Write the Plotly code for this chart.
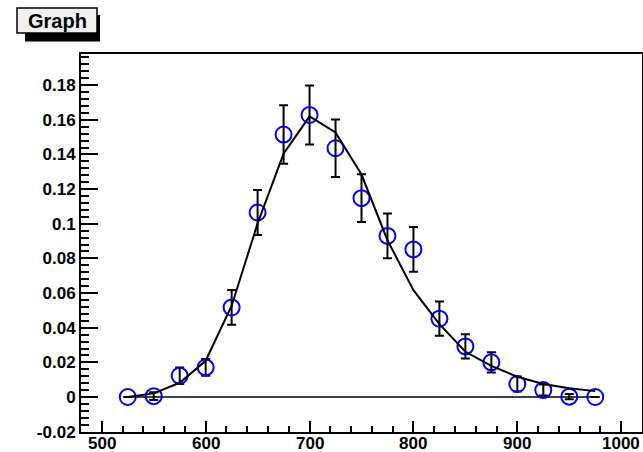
import plotly.graph_objects as go

# Measured points: energy bins, yield and its uncertainty
energy = [525, 550, 575, 600, 625, 650, 675, 700, 725, 750,
          775, 800, 825, 850, 875, 900, 925, 950, 975]
yield_vals = [0.0, 0.0005, 0.0123, 0.0171, 0.0517, 0.1065, 0.1515, 0.1628, 0.1436, 0.1148,
              0.0930, 0.0852, 0.0452, 0.0292, 0.0200, 0.0075, 0.0040, 0.0002, 0.0]
yield_err = [None, 0.0023, 0.0048, 0.0048, 0.0100, 0.0130, 0.0169, 0.0170, 0.0166, 0.0138,
             0.0129, 0.0129, 0.0099, 0.0070, 0.0059, 0.0043, 0.0032, 0.0015, None]

# Model curve evaluated at the same energies
model_vals = [0.0, 0.0021, 0.0082, 0.0209, 0.0527, 0.1002, 0.1405, 0.1620, 0.1527, 0.1284,
              0.0905, 0.0617, 0.0421, 0.0261, 0.0180, 0.0117, 0.0075, 0.0050, 0.0034]

# Zero reference line
baseline = [0.0] * len(energy)

x_ticks = [500, 600, 700, 800, 900, 1000]
x_tick_labels = ["500", "600", "700", "800", "900", "1000"]
y_ticks = [-0.02, 0.0, 0.02, 0.04, 0.06, 0.08, 0.10, 0.12, 0.14, 0.16, 0.18]
y_tick_labels = ["-0.02", "0", "0.02", "0.04", "0.06", "0.08", "0.1", "0.12", "0.14", "0.16", "0.18"]

x_range = [480, 1020]
y_range = [-0.0202, 0.198]

W, H = 643, 452
ML, MR, MT, MB = 81, 1, 54, 20
PW, PH = W - ML - MR, H - MT - MB


def px_to_paper(px, py):
    return (px - ML) / PW, (H - MB - py) / PH


fig = go.Figure()

fig.add_trace(go.Scatter(
    x=[energy[0], energy[-1]], y=[baseline[0], baseline[-1]],
    mode="lines", line=dict(color="black", width=1.3),
    showlegend=False, hoverinfo="skip",
))

fig.add_trace(go.Scatter(
    x=energy, y=yield_vals, mode="markers",
    marker=dict(symbol="circle-open", size=16, color="#0000ff", line=dict(width=2, color="#0000ff")),
    error_y=dict(type="data", array=yield_err, visible=True, color="black", thickness=2, width=4.5),
    showlegend=False,
))

fig.add_trace(go.Scatter(
    x=energy, y=model_vals, mode="lines",
    line=dict(color="black", width=2),
    showlegend=False,
))

tick_font = dict(family="Liberation Sans, Arial, sans-serif", size=17, color="black", weight="bold")

fig.update_xaxes(
    range=x_range, tickmode="array", tickvals=x_ticks, showticklabels=False,
    ticks="inside", ticklen=11, tickwidth=2, tickcolor="black",
    minor=dict(tickmode="linear", tick0=500, dtick=20, ticks="inside", ticklen=6,
               tickwidth=1.5, tickcolor="black", showgrid=False),
    showline=True, linecolor="black", linewidth=2, mirror=True,
    showgrid=False, zeroline=False, automargin=False,
)
fig.update_yaxes(
    range=y_range, tickmode="array", tickvals=y_ticks, ticktext=y_tick_labels,
    ticks="inside", ticklen=17, tickwidth=2, tickcolor="black",
    minor=dict(tickmode="linear", tick0=0, dtick=0.004, ticks="inside", ticklen=8,
               tickwidth=1.5, tickcolor="black", showgrid=False),
    showline=True, linecolor="black", linewidth=2, mirror=True,
    showgrid=False, zeroline=False, tickfont=tick_font, automargin=False,
)

# X tick labels placed just under the axis line
for xv, lab in zip(x_ticks, x_tick_labels):
    fig.add_annotation(text=lab, x=xv, xref="x", y=0, yref="paper",
                       xanchor="center", yanchor="top", yshift=-1, showarrow=False,
                       borderpad=0, font=tick_font)

# Title box with drop shadow
sx0, sy0 = px_to_paper(25, 41.5)
sx1, sy1 = px_to_paper(100, 15)
bx0, by0 = px_to_paper(17, 33)
bx1, by1 = px_to_paper(97, 8)
fig.add_shape(type="rect", xref="paper", yref="paper", x0=sx0, y0=sy0, x1=sx1, y1=sy1,
              fillcolor="black", line=dict(width=0), layer="above")
fig.add_shape(type="rect", xref="paper", yref="paper", x0=bx0, y0=by0, x1=bx1, y1=by1,
              fillcolor="#f0f0f0", line=dict(color="black", width=1.5), layer="above")
tx, ty = px_to_paper(57, 21)
fig.add_annotation(text="Graph", xref="paper", yref="paper", x=tx, y=ty,
                   xanchor="center", yanchor="middle", showarrow=False,
                   font=dict(family="Liberation Sans, Arial, sans-serif", size=20,
                             color="black", weight="bold"))

fig.update_layout(
    width=W, height=H,
    margin=dict(l=ML, r=MR, t=MT, b=MB, pad=0),
    paper_bgcolor="white", plot_bgcolor="white",
    showlegend=False,
)

fig.write_html("out.html")
